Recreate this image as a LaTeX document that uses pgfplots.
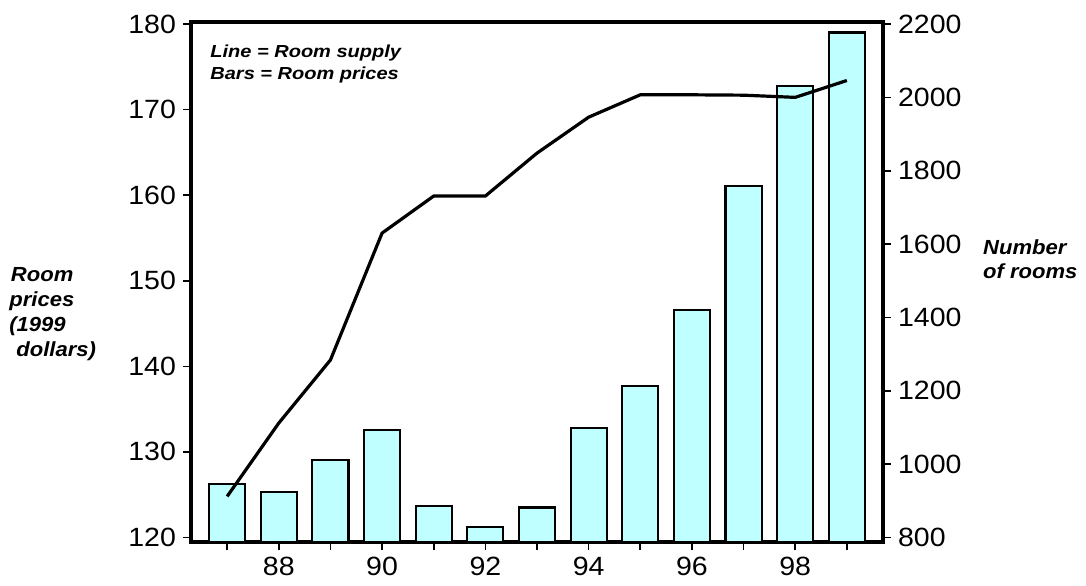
\documentclass[border=0pt]{standalone}
\usepackage{fontspec}
\setmainfont{Liberation Sans}
\newfontfamily\widefont[FakeStretch=1.15]{Liberation Sans}
\newfontfamily\semiwidefont[FakeStretch=1.08]{Liberation Sans}
\usepackage{pgfplots}
\pgfplotsset{compat=1.18}

\definecolor{barcyan}{RGB}{192,255,255}

\begin{document}
\begin{tikzpicture}
% fixed page size, in 0.5pt per reference pixel
\path[use as bounding box] (-95.5pt,-21.5pt) rectangle (447.5pt,271pt);

\pgfplotsset{
    every axis/.append style={
        scale only axis,
        width=346pt, height=260pt,
        xmin=86.3, xmax=99.7,
        axis line style={line width=2pt},
        tick align=outside,
        major tick length=4pt,
        every tick/.style={black, line width=0.8pt},
        tick label style={font=\semiwidefont\fontsize{13.2}{13}\selectfont},
        /pgf/number format/assume math mode=true,
        /pgf/number format/1000 sep={},
    },
}

\begin{axis}[
    ybar,
    bar width=0.7,
    ymin=119.47, ymax=180.23,
    ytick={120,130,...,180},
    xtick={87,...,99},
    xticklabels={,88,,90,,92,,94,,96,,98,},
    xtick pos=bottom,
    ytick pos=left,
    clip=false,
]
\addplot[fill=barcyan, draw=black, line width=1.05pt] coordinates {
    (87,126.3) (88,125.3) (89,129.1) (90,132.6) (91,123.7) (92,121.2)
    (93,123.5) (94,132.8) (95,137.7) (96,146.6) (97,161.1) (98,172.7) (99,179.0)
};
\end{axis}

\begin{axis}[
    ymin=787.7, ymax=2205.5,
    ytick={800,1000,...,2200},
    axis y line*=right,
    axis x line=none,
]
\addplot[black, line width=1.6pt, mark=none] coordinates {
    (87,912) (88,1112) (89,1284) (90,1630) (91,1731) (92,1731) (93,1848)
    (94,1946) (95,2007) (96,2007) (97,2006) (98,2000) (99,2046)
};
\end{axis}

% annotation inside the frame
\begin{scope}[every node/.style={anchor=base west, inner sep=0pt, font=\widefont\bfseries\itshape\fontsize{8.7}{10}\selectfont}]
\node at (9.5pt,242.4pt) {Line = Room supply};
\node at (9.5pt,231.4pt) {Bars = Room prices};
\end{scope}

% axis titles
\begin{scope}[every node/.style={anchor=base west, inner sep=0pt, font=\semiwidefont\bfseries\itshape\fontsize{10.2}{12}\selectfont}]
\node at (-90.2pt,130.2pt) {Room};
\node at (-91pt,117.7pt) {prices};
\node at (-91pt,105.2pt) {(1999};
\node at (-87.5pt,92.7pt) {dollars)};
\node at (395.9pt,143.9pt) {Number};
\node at (395.9pt,131.9pt) {of rooms};
\end{scope}
\end{tikzpicture}
\end{document}
